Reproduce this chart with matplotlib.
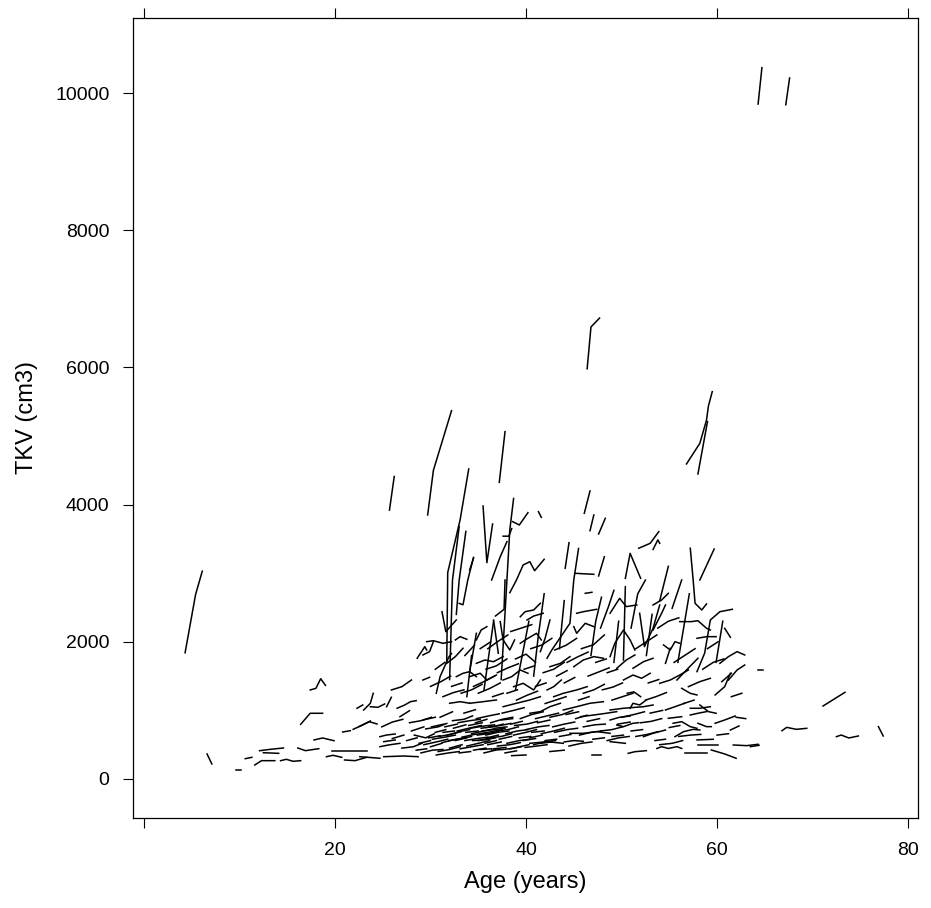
import matplotlib
matplotlib.use("Agg")
import matplotlib.pyplot as plt

plt.rcParams['font.family'] = ['Liberation Sans', 'DejaVu Sans']

# each entry: (ages in years, TKV in cm3) for one subject
young = [
    ([4.3, 5.4, 6.1], [1840, 2690, 3030]),
    ([6.6, 7.1], [365, 219]),
    ([9.6, 10.2], [131, 131]),
    ([10.6, 11.3], [296, 316]),
    ([11.6, 12.3, 13.7], [204, 267, 267]),
    ([12.1, 13.2, 14.6], [412, 432, 452]),
    ([12.5, 14.1], [383, 374]),
    ([14.3, 14.9, 15.6, 16.4], [267, 287, 258, 267]),
    ([16.1, 16.9, 18.3], [452, 413, 442]),
    ([17.8, 18.7, 19.9], [569, 598, 558]),
    ([17.4, 18.0, 18.5, 19.0], [1298, 1322, 1462, 1365]),
    ([16.4, 17.4, 18.7], [797, 958, 958]),
    ([19.7, 23.4], [405, 405]),
    ([19.1, 19.8, 20.7], [325, 345, 316]),
    ([21.0, 22.1, 23.3], [277, 267, 316]),
    ([20.8, 21.6], [685, 704]),
    ([21.9, 22.8, 23.6, 24.4], [724, 782, 835, 802]),
    ([22.5, 23.7], [763, 846]),
    ([22.3, 22.9], [1031, 1079]),
    ([23.0, 23.7, 24.0], [1006, 1104, 1249]),
    ([23.7, 24.5, 25.2], [1054, 1045, 1094]),
    ([22.6, 24.7], [325, 302]),
    ([25.1, 27.2, 28.7], [325, 335, 325]),
    ([24.7, 25.6, 26.8], [471, 496, 520]),
    ([25.1, 26.3], [544, 569]),
    ([24.7, 25.4, 26.3], [617, 641, 656]),
    ([24.9, 26.0, 27.1], [760, 830, 870]),
    ([26.0, 27.2], [590, 640]),
    ([25.4, 25.9], [1054, 1191]),
    ([26.5, 27.3, 27.9, 28.5], [1031, 1079, 1127, 1142]),
    ([26.8, 27.8], [908, 996]),
    ([25.9, 27.0, 28.0], [1298, 1346, 1443]),
    ([25.7, 26.2], [3920, 4410]),
]

core = [
    ([27.5, 28.6], [560, 600]),
    ([27.0, 28.2, 29.1], [450, 470, 520]),
    ([28.0, 29.3], [700, 760]),
    ([28.3, 29.5, 30.4], [640, 600, 660]),
    ([28.8, 30.0], [520, 560]),
    ([29.0, 30.2, 31.3], [380, 420, 430]),
    ([29.2, 30.5], [860, 900]),
    ([29.5, 30.8, 31.7], [730, 760, 810]),
    ([30.0, 31.2], [470, 520]),
    ([30.2, 31.5, 32.6], [580, 610, 640]),
    ([30.5, 31.6], [680, 720]),
    ([30.8, 32.0, 33.1], [400, 430, 470]),
    ([31.0, 32.3], [900, 980]),
    ([31.2, 32.4, 33.6], [530, 570, 600]),
    ([31.5, 32.8], [760, 800]),
    ([31.8, 33.0, 34.1], [640, 690, 720]),
    ([32.0, 33.3], [450, 500]),
    ([32.3, 33.5, 34.4], [850, 870, 920]),
    ([32.6, 33.8], [560, 600]),
    ([32.8, 34.0, 35.3], [700, 740, 780]),
    ([33.0, 34.2], [380, 400]),
    ([33.3, 34.6, 35.7], [610, 650, 660]),
    ([33.5, 34.7], [960, 1010]),
    ([33.8, 35.0, 36.2], [480, 520, 560]),
    ([34.0, 35.4], [780, 820]),
    ([34.3, 35.6, 36.6], [660, 700, 730]),
    ([34.5, 35.8], [420, 450]),
    ([34.8, 36.1, 37.2], [880, 920, 950]),
    ([35.0, 36.3], [560, 600]),
    ([35.3, 36.5, 37.6], [740, 760, 800]),
    ([35.6, 36.8], [380, 420]),
    ([35.8, 37.0, 38.2], [640, 680, 700]),
    ([36.0, 37.4], [500, 540]),
    ([36.3, 37.5, 38.6], [820, 870, 900]),
    ([36.6, 37.9], [440, 460]),
    ([36.9, 38.1, 39.2], [700, 720, 760]),
    ([37.2, 38.5], [580, 620]),
    ([37.5, 38.7, 39.8], [960, 1000, 1040]),
    ([37.8, 39.0], [380, 410]),
    ([38.0, 39.3, 40.4], [520, 560, 580]),
    ([38.4, 39.6], [800, 840]),
    ([38.7, 40.0, 41.1], [640, 680, 720]),
    ([39.0, 40.3], [460, 500]),
    ([39.4, 40.6, 41.8], [880, 940, 980]),
    ([39.7, 41.0], [560, 590]),
    ([40.0, 41.3, 42.4], [720, 760, 780]),
    ([40.4, 41.7], [600, 640]),
    ([40.8, 42.0, 43.1], [500, 540, 560]),
    ([41.2, 42.5], [820, 860]),
    ([41.6, 42.9, 44.0], [660, 700, 740]),
    ([42.0, 43.2], [560, 580]),
    ([42.5, 43.8, 44.9], [900, 940, 1000]),
    ([33.6, 34.9, 36.0], [560, 590, 610]),
    ([34.2, 35.5, 36.7], [740, 770, 790]),
    ([34.9, 36.0, 37.1], [640, 660, 690]),
    ([35.4, 36.7, 37.8], [700, 720, 740]),
    ([35.9, 37.1], [600, 640]),
    ([36.1, 37.3, 38.4], [760, 780, 810]),
    ([35.2, 36.4], [430, 440]),
    ([36.4, 37.6, 38.8], [420, 430, 450]),
    ([32.9, 34.1, 35.2], [820, 850, 870]),
    ([30.9, 32.1, 33.2], [620, 650, 690]),
    ([29.8, 31.0], [600, 630]),
    ([40.4, 42.2, 43.9], [520, 544, 520]),
    ([44.6, 46.0, 47.4, 48.8], [666, 666, 690, 666]),
    ([46.9, 47.9], [350, 350]),
    ([45.7, 47.1, 48.4, 49.5], [908, 933, 958, 982]),
    ([40.4, 41.5, 42.5, 43.6], [958, 982, 1054, 1104]),
    ([44.0, 45.0, 46.0], [540, 560, 550]),
    ([42.8, 44.0, 45.1], [760, 800, 830]),
    ([43.5, 44.7], [620, 650]),
    ([44.5, 45.8, 46.9], [480, 520, 540]),
    ([45.2, 46.4], [880, 930]),
    ([46.0, 47.2, 48.3], [760, 790, 800]),
    ([47.0, 48.2], [580, 600]),
    ([47.8, 49.0, 50.1], [700, 720, 760]),
    ([49.0, 50.2], [620, 640]),
    ([50.0, 51.3, 52.4], [900, 940, 980]),
    ([51.0, 52.2], [700, 720]),
    ([52.0, 53.1, 54.2], [820, 840, 880]),
    ([53.5, 54.6], [560, 580]),
    ([55.0, 56.1], [750, 780]),
    ([56.0, 57.2, 58.3], [620, 640, 650]),
    ([60.0, 61.2], [640, 660]),
    ([62.0, 63.0], [900, 880]),
    ([38.5, 40.0], [340, 350]),
    ([42.5, 44.0], [400, 420]),
    ([27.8, 29.0, 30.1], [820, 850, 900]),
    ([28.5, 29.6], [420, 440]),
    ([29.3, 30.6, 31.8], [500, 540, 580]),
    ([30.1, 31.4], [760, 800]),
    ([30.6, 31.9, 33.0], [350, 380, 400]),
    ([31.3, 32.5], [680, 700]),
    ([31.9, 33.2, 34.3], [560, 590, 620]),
    ([32.4, 33.7], [740, 790]),
    ([33.1, 34.3, 35.5], [440, 470, 500]),
    ([33.7, 35.0], [680, 700]),
    ([34.4, 35.7, 36.8], [560, 570, 600]),
    ([34.7, 35.9], [820, 870]),
    ([35.1, 36.4, 37.5], [660, 690, 720]),
    ([35.7, 36.9], [520, 560]),
    ([36.2, 37.4, 38.5], [600, 620, 660]),
    ([36.7, 38.0], [740, 760]),
    ([37.0, 38.3, 39.4], [480, 500, 530]),
    ([37.4, 38.6], [860, 880]),
    ([37.9, 39.1, 40.2], [660, 700, 720]),
    ([38.3, 39.5], [440, 470]),
    ([38.8, 40.1, 41.2], [780, 800, 840]),
    ([39.3, 40.5], [600, 620]),
    ([39.9, 41.1, 42.2], [460, 480, 500]),
    ([40.6, 41.9], [680, 700]),
    ([41.0, 42.2, 43.4], [880, 920, 960]),
    ([41.5, 42.7], [520, 540]),
    ([43.0, 44.3, 45.4], [680, 720, 740]),
    ([44.2, 45.5], [940, 980]),
    ([45.6, 46.8, 47.9], [640, 680, 700]),
    ([46.4, 47.7], [840, 880]),
    ([48.5, 49.7, 50.8], [560, 600, 620]),
    ([49.6, 50.9], [800, 830]),
    ([51.5, 52.7, 53.8], [620, 650, 690]),
    ([53.0, 54.3], [960, 1000]),
    ([54.0, 55.3, 56.4], [500, 520, 560]),
]

late = [
    ([48.8, 50.2, 52.3, 53.3], [1006, 1031, 1054, 1079]),
    ([50.9, 51.2, 51.9, 52.6], [1031, 1104, 1079, 1152]),
    ([54.6, 55.6, 56.6], [1006, 1054, 1104]),
    ([57.2, 58.2, 59.3], [1031, 1031, 1054]),
    ([58.2, 59.1, 59.9], [1079, 982, 958]),
    ([48.8, 49.8, 50.9], [860, 900, 918]),
    ([49.5, 50.2, 51.2, 51.8], [787, 763, 812, 821]),
    ([52.3, 53.3, 54.6], [617, 666, 714]),
    ([54.9, 56.3], [885, 908]),
    ([55.4, 56.3, 57.2, 57.9], [812, 836, 763, 739]),
    ([55.6, 56.5, 57.5, 58.2], [617, 690, 724, 714]),
    ([57.2, 58.0, 58.9], [933, 958, 982]),
    ([58.0, 58.9, 59.4], [812, 763, 763]),
    ([59.8, 60.8, 61.9], [812, 860, 918]),
    ([61.4, 62.3], [714, 773]),
    ([48.8, 50.4], [544, 520]),
    ([50.7, 51.4, 52.6], [374, 398, 413]),
    ([53.7, 54.2, 54.9, 55.8, 56.3], [445, 471, 445, 471, 445]),
    ([56.6, 57.9, 59.0], [374, 374, 374]),
    ([57.9, 59.6], [569, 579]),
    ([58.0, 60.1], [496, 496]),
    ([59.4, 60.8, 62.0], [423, 365, 302]),
    ([61.7, 63.1, 64.3], [496, 486, 506]),
    ([63.5, 64.4], [471, 491]),
]

mid = [
    ([28.6, 29.4, 29.6], [1760, 1929, 1880]),
    ([29.2, 29.9, 30.3], [1808, 1857, 2002]),
    ([29.6, 30.3, 31.3, 32.2], [2002, 2016, 1978, 2002]),
    ([29.2, 29.9], [1443, 1483]),
    ([31.2, 31.6, 32.7], [2439, 2148, 2318]),
    ([31.7, 32.6, 33.4], [1686, 1784, 1906]),
    ([30.6, 31.0, 31.9, 32.2], [1249, 1492, 1774, 1830]),
    ([32.6, 33.1, 33.8], [2027, 2075, 2037]),
    ([32.7, 33.4, 34.1, 34.8], [1492, 1541, 1565, 1492]),
    ([32.0, 33.1, 34.1], [1104, 1127, 1104]),
    ([34.1, 34.8], [1565, 2124]),
    ([34.8, 35.3, 35.9], [2027, 2172, 2221]),
    ([34.8, 35.7, 36.6, 37.6], [1686, 1735, 1710, 1784]),
    ([34.1, 35.2, 35.9, 36.9], [1492, 1541, 1443, 1516]),
    ([37.6, 38.5, 39.4, 40.2], [1443, 1492, 1589, 1541]),
    ([38.7, 39.7, 40.8, 41.5], [1346, 1395, 1298, 1443]),
    ([39.4, 40.2, 41.1, 41.6], [1979, 2051, 2124, 2027]),
    ([42.5, 43.6, 44.6], [1637, 1686, 1784]),
    ([42.2, 42.9, 43.7], [1298, 1346, 1443]),
    ([36.8, 37.7, 37.8], [2376, 2474, 2901]),
    ([39.4, 39.9, 40.8, 41.5], [2366, 2439, 2464, 2562]),
    ([40.1, 40.8, 41.8], [2318, 2376, 2416]),
    ([41.5, 42.0, 42.5], [1857, 2052, 2318]),
    ([36.6, 37.1], [2318, 1833]),
    ([37.3, 37.6, 38.3, 38.8], [2294, 2027, 1881, 2027]),
    ([45.0, 45.3, 46.2, 47.1], [2221, 2124, 2270, 2221]),
    ([45.0, 46.0, 47.1, 48.1], [1637, 1735, 1784, 1760]),
    ([45.3, 46.0, 47.4], [2416, 2439, 2474]),
    ([46.2, 46.9], [2707, 2722]),
    ([42.9, 43.9, 45.3, 46.4], [1200, 1249, 1298, 1346]),
    ([34.1, 35.5, 36.9], [1104, 1127, 1152]),
    ([37.6, 39.0, 40.4, 41.5], [1054, 1104, 1152, 1200]),
    ([43.9, 45.3, 46.7, 48.1], [1006, 1054, 1104, 1127]),
    ([35.0, 36.2, 37.3], [1250, 1320, 1400]),
    ([36.0, 37.0, 38.1], [1900, 2000, 2100]),
    ([38.9, 40.0, 41.0], [1750, 1820, 1700]),
    ([41.8, 42.9, 44.0], [1550, 1600, 1700]),
    ([43.0, 44.2, 45.3], [1880, 1950, 2050]),
    ([44.0, 45.1], [1400, 1480]),
    ([46.5, 47.6, 48.7], [1500, 1560, 1620]),
    ([47.0, 48.2], [1950, 2100]),
    ([48.0, 49.1, 50.1], [1300, 1340, 1400]),
    ([45.5, 46.6], [1150, 1200]),
    ([48.8, 49.8, 50.5, 51.6], [2416, 2634, 2513, 2537]),
    ([48.8, 49.3, 50.2, 50.9, 51.4], [1784, 1979, 2172, 2027, 1881]),
    ([49.5, 50.5, 51.4], [1614, 1735, 1808]),
    ([51.2, 52.3, 53.3], [1614, 1710, 1760]),
    ([50.2, 51.2, 52.1, 53.0], [1443, 1516, 1468, 1541]),
    ([50.6, 51.3, 52.0], [1250, 1270, 1200]),
    ([53.3, 54.2, 54.6], [2172, 2416, 2537]),
    ([51.9, 52.4, 53.3, 54.0], [2416, 1930, 2197, 2537]),
    ([53.3, 54.2, 54.9], [2537, 2610, 2707]),
    ([54.4, 55.1, 55.6, 56.1], [1954, 1881, 2002, 1978]),
    ([54.6, 55.1], [1686, 1906]),
    ([54.0, 55.1, 56.1, 57.0], [1395, 1443, 1516, 1589]),
    ([55.8, 56.8, 58.0], [1443, 1589, 1760]),
    ([56.3, 57.2, 57.9], [1322, 1249, 1225]),
    ([57.0, 58.2, 59.3], [1346, 1419, 1468]),
    ([55.3, 56.3], [2489, 2901]),
    ([57.9, 58.9, 59.9], [2051, 2075, 2075]),
    ([56.1, 57.3, 58.0, 58.9, 59.3], [2294, 2294, 2308, 2197, 2172]),
    ([57.9, 58.7, 59.3, 60.3, 61.6], [1565, 1833, 2318, 2439, 2474]),
    ([60.8, 61.4], [2197, 2066]),
    ([60.3, 61.2, 62.1, 62.9], [1686, 1784, 1857, 1808]),
    ([61.2, 62.1, 62.9], [1443, 1589, 1662]),
    ([59.8, 60.8, 61.4], [1225, 1346, 1541]),
    ([60.5, 61.5], [1419, 1541]),
    ([64.3, 64.8], [1589, 1589]),
    ([50.2, 50.4], [1735, 2804]),
    ([54.0, 54.9], [2600, 3100]),
    ([52.5, 53.6, 54.7], [1150, 1200, 1260]),
    ([30.0, 31.1, 32.1], [1350, 1420, 1500]),
    ([30.5, 31.5], [1600, 1700]),
    ([31.3, 32.4, 33.5], [1200, 1260, 1300]),
    ([32.2, 33.3], [1350, 1400]),
    ([33.2, 34.3, 35.4], [1250, 1300, 1380]),
    ([33.6, 34.6], [1800, 1950]),
    ([34.5, 35.6, 36.7], [1350, 1420, 1500]),
    ([35.2, 36.3], [1900, 2000]),
    ([35.8, 36.9, 38.0], [1600, 1650, 1750]),
    ([36.5, 37.6], [1200, 1250]),
    ([37.0, 38.1, 39.2], [1550, 1620, 1680]),
    ([38.0, 39.1], [1250, 1300]),
    ([38.4, 39.5, 40.6], [2150, 2200, 2250]),
    ([39.0, 40.1, 41.2], [1150, 1220, 1280]),
    ([39.8, 40.9], [1600, 1650]),
    ([40.5, 41.6, 42.7], [1900, 1950, 2050]),
    ([41.0, 42.1], [1350, 1400]),
    ([42.0, 43.1, 44.2], [1100, 1150, 1200]),
    ([43.2, 44.3], [1500, 1580]),
    ([44.3, 45.4, 46.5], [1700, 1780, 1850]),
    ([45.8, 46.9], [1900, 1950]),
    ([46.0, 47.1, 48.2], [1250, 1300, 1380]),
    ([47.3, 48.4], [1700, 1750]),
    ([48.5, 49.6], [1550, 1600]),
    ([49.0, 50.1, 51.2], [1150, 1200, 1250]),
    ([51.5, 52.6, 53.7], [1900, 2000, 2100]),
    ([52.8, 53.9], [1400, 1450]),
    ([55.5, 56.6, 57.7], [1700, 1800, 1900]),
    ([56.5, 57.6], [1100, 1150]),
    ([58.5, 59.6, 60.7], [1600, 1700, 1750]),
    ([59.0, 60.1], [1900, 2000]),
    ([61.5, 62.6], [1200, 1250]),
    ([53.8, 54.9, 56.0], [2200, 2300, 2350]),
    ([47.8, 48.6, 49.2], [2200, 2500, 2750]),
    ([51.0, 51.7, 52.5], [2200, 2700, 2900]),
    ([38.9, 39.6, 40.3], [1300, 1800, 2300]),
    ([40.8, 41.3, 41.9], [1500, 2100, 2700]),
    ([43.5, 44.0], [1900, 2600]),
    ([46.8, 47.3, 47.9], [1800, 2300, 2650]),
    ([49.2, 49.7], [1700, 2300]),
    ([52.6, 53.2], [1800, 2400]),
    ([55.9, 56.5, 57.1], [1700, 2200, 2700]),
    ([59.9, 60.6], [1700, 2300]),
    ([35.6, 36.1, 36.6], [1300, 1800, 2300]),
    ([33.8, 34.3], [1200, 1800]),
]

high = [
    ([29.7, 30.3, 32.2], [3850, 4500, 5370]),
    ([31.7, 31.8, 33.1, 34.0], [1710, 3010, 3780, 4520]),
    ([32.0, 32.3, 33.0], [1450, 2900, 3680]),
    ([32.7, 33.0, 33.7], [2400, 2900, 3610]),
    ([33.0, 33.4, 33.9, 34.5], [2560, 2540, 2900, 3230]),
    ([34.1, 34.5], [3047, 3218]),
    ([35.5, 35.9, 36.5], [3980, 3154, 3718]),
    ([37.2, 37.8], [4326, 5064]),
    ([37.4, 38.0, 38.3, 38.7], [1450, 2900, 3630, 4090]),
    ([38.6, 39.3, 40.2], [3752, 3703, 3883]),
    ([41.3, 41.6], [3897, 3815]),
    ([36.4, 37.3, 38.0], [2901, 3241, 3460]),
    ([37.6, 38.2, 38.5], [3540, 3540, 3650]),
    ([38.3, 39.0, 39.7, 40.4, 40.9, 41.9], [2716, 2901, 3120, 3168, 3037, 3203]),
    ([42.2, 42.7, 44.6, 45.0, 45.5], [1760, 1881, 2270, 2901, 3361]),
    ([44.1, 44.5], [3072, 3445]),
    ([46.1, 46.7], [3874, 4199]),
    ([46.7, 47.1], [3620, 3849]),
    ([47.6, 48.3], [3572, 3801]),
    ([45.1, 47.1], [2999, 2984]),
    ([47.6, 48.2], [2960, 3240]),
    ([46.4, 46.8, 47.7], [5980, 6590, 6720]),
    ([50.4, 50.9, 52.0], [2926, 3290, 2926]),
    ([51.8, 53.0, 53.9], [3364, 3436, 3606]),
    ([53.3, 53.8, 54.0], [3346, 3485, 3436]),
    ([57.2, 57.5, 57.7, 58.4, 58.9], [3364, 2901, 2562, 2464, 2552]),
    ([58.2, 59.7], [2901, 3353]),
    ([56.8, 58.2, 58.9, 59.1, 59.5], [4593, 4894, 5234, 5438, 5647]),
    ([58.0, 59.0], [4447, 5210]),
    ([64.3, 64.7], [9840, 10370]),
    ([67.2, 67.6], [9830, 10220]),
]

old = [
    ([71.1, 73.4], [1064, 1264]),
    ([66.8, 67.3, 68.3, 69.4], [704, 753, 724, 739]),
    ([72.5, 73.0, 73.8, 74.8], [617, 641, 598, 627]),
    ([76.9, 77.4], [763, 627]),
]

x_ticks = [0, 20, 40, 60, 80]
x_labels = ['', '20', '40', '60', '80']
y_ticks = [0, 2000, 4000, 6000, 8000, 10000]

fig = plt.figure(figsize=(9.31, 9.08), dpi=100)
ax = fig.add_axes([0.1429, 0.0991, 0.8432, 0.8811])

for group in (young, core, late, mid, high, old):
    for ages, tkv in group:
        ax.plot(ages, tkv, color='black', lw=1.1)

ax.set_xlim(-1.15, 81.05)
ax.set_ylim(-569, 11095)
ax.set_xticks(x_ticks)
ax.set_xticklabels(x_labels)
ax.set_yticks(y_ticks)
ax.tick_params(direction='out', length=7, width=0.8, labelsize=14, pad=10,
               top=True, right=False)
for sp in ax.spines.values():
    sp.set_linewidth(0.9)

ax.set_xlabel('Age (years)', fontsize=17, labelpad=9)
ax.set_ylabel('TKV (cm3)', fontsize=17, labelpad=12)

fig.savefig('out.png', dpi=100)
